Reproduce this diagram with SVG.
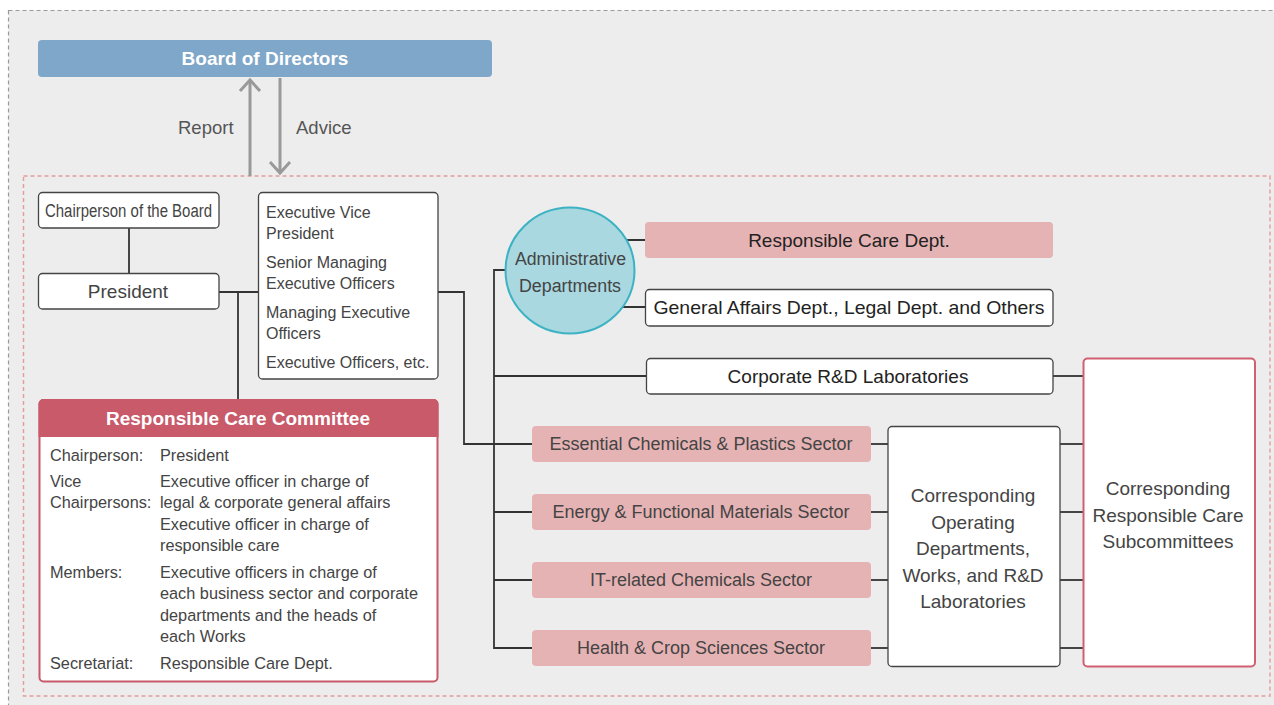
<svg xmlns="http://www.w3.org/2000/svg" width="1274" height="705" viewBox="0 0 1274 705">
<style>
text{font-family:"Liberation Sans",Arial,sans-serif;fill:#444}
.box{fill:#fff;stroke:#444;stroke-width:1.3}
.pink{fill:#e6b3b4}
.ln{fill:none;stroke:#333;stroke-width:1.8}
.arr{fill:none;stroke:#999;stroke-width:3}
.c{text-anchor:middle}
.b16{font-size:16.3px}
.s18{font-size:18px}
.s19{font-size:19px}
.dk{fill:#222}
.wb{fill:#fff;font-weight:bold;font-size:19px}
</style>
<rect x="0" y="0" width="1274" height="705" fill="#fff"/>
<rect x="8.5" y="10.5" width="1280" height="710" fill="#ededed" stroke="#9a9a9a" stroke-width="1.2" stroke-dasharray="4 3"/>
<rect x="23.5" y="176" width="1246.5" height="520" fill="none" stroke="#e49c9c" stroke-width="1.4" stroke-dasharray="4 3"/>

<g id="connectors">
<polyline class="arr" points="250,176 250,80"/>
<polyline class="arr" points="240,91 250,80 260,91"/>
<polyline class="arr" points="280,78 280,173"/>
<polyline class="arr" points="270,162 280,173 290,162"/>
<line class="ln" x1="129" y1="228" x2="129" y2="273"/>
<line class="ln" x1="219" y1="292" x2="258" y2="292"/>
<line class="ln" x1="238" y1="292" x2="238" y2="400"/>
<polyline class="ln" points="438,292 464,292 464,444 532,444"/>
<polyline class="ln" points="506,270 494,270 494,648 532,648"/>
<line class="ln" x1="494" y1="376" x2="646" y2="376"/>
<line class="ln" x1="494" y1="512" x2="532" y2="512"/>
<line class="ln" x1="494" y1="580" x2="532" y2="580"/>
<line class="ln" x1="607" y1="240" x2="645" y2="240"/>
<line class="ln" x1="602" y1="307" x2="645" y2="307"/>
<line class="ln" x1="1053" y1="376" x2="1083" y2="376"/>
<line class="ln" x1="871" y1="444" x2="888" y2="444"/>
<line class="ln" x1="871" y1="512" x2="888" y2="512"/>
<line class="ln" x1="871" y1="580" x2="888" y2="580"/>
<line class="ln" x1="871" y1="648" x2="888" y2="648"/>
<line class="ln" x1="1060" y1="444" x2="1083" y2="444"/>
<line class="ln" x1="1060" y1="512" x2="1083" y2="512"/>
<line class="ln" x1="1060" y1="580" x2="1083" y2="580"/>
<line class="ln" x1="1060" y1="648" x2="1083" y2="648"/>
<text x="178" y="134" style="font-size:18.5px;fill:#555">Report</text>
<text x="296" y="134" style="font-size:18.5px;fill:#555">Advice</text>
</g>

<g id="board">
<rect x="38" y="40" width="454" height="37" rx="4" fill="#7fa7c9"/>
<text class="wb c" x="265" y="65">Board of Directors</text>
</g>

<g id="chairperson">
<rect class="box" x="38.5" y="192.5" width="180.5" height="35.5" rx="4"/>
<text x="45" y="217" style="font-size:18px" textLength="167" lengthAdjust="spacingAndGlyphs">Chairperson of the Board</text>
</g>

<g id="president">
<rect class="box" x="38.5" y="273.5" width="180.5" height="35.5" rx="4"/>
<text class="c" x="128" y="298" style="font-size:19px">President</text>
</g>

<g id="executives">
<rect class="box" x="258.5" y="192.5" width="179.5" height="186.5" rx="4"/>
<text x="266" y="218" style="font-size:16px">Executive Vice</text>
<text x="266" y="239" style="font-size:16px">President</text>
<text x="266" y="268" style="font-size:16px">Senior Managing</text>
<text x="266" y="289" style="font-size:16px">Executive Officers</text>
<text x="266" y="318" style="font-size:16px">Managing Executive</text>
<text x="266" y="339" style="font-size:16px">Officers</text>
<text x="266" y="368" style="font-size:16px">Executive Officers, etc.</text>
</g>

<g id="rc-committee">
<rect x="39.5" y="400" width="398" height="281.5" rx="4" fill="#fff" stroke="#c85a6a" stroke-width="2"/>
<path d="M39.5,436 V404 a4,4 0 0 1 4,-4 H433.5 a4,4 0 0 1 4,4 V436 Z" fill="#c85a6a" stroke="#c85a6a" stroke-width="2"/>
<text class="wb c" x="238" y="425">Responsible Care Committee</text>
<text class="b16" x="50" y="461">Chairperson:</text>
<text class="b16" x="160" y="461">President</text>
<text class="b16" x="50" y="487">Vice</text>
<text class="b16" x="50" y="508">Chairpersons:</text>
<text class="b16" x="160" y="487">Executive officer in charge of</text>
<text class="b16" x="160" y="508">legal &amp; corporate general affairs</text>
<text class="b16" x="160" y="530">Executive officer in charge of</text>
<text class="b16" x="160" y="551">responsible care</text>
<text class="b16" x="50" y="578">Members:</text>
<text class="b16" x="160" y="578">Executive officers in charge of</text>
<text class="b16" x="160" y="599">each business sector and corporate</text>
<text class="b16" x="160" y="621">departments and the heads of</text>
<text class="b16" x="160" y="642">each Works</text>
<text class="b16" x="50" y="669">Secretariat:</text>
<text class="b16" x="160" y="669">Responsible Care Dept.</text>
</g>

<g id="admin-depts">
<ellipse cx="570" cy="270.5" rx="64.5" ry="63" fill="#a9d8e0" stroke="#3cb2c2" stroke-width="2"/>
<text class="c" x="570.5" y="265" style="font-size:18px" textLength="111" lengthAdjust="spacingAndGlyphs">Administrative</text>
<text class="c" x="570" y="292" style="font-size:18px" textLength="102" lengthAdjust="spacingAndGlyphs">Departments</text>
</g>

<g id="rc-dept">
<rect class="pink" x="645" y="222" width="408" height="36" rx="4"/>
<text class="c dk s19" x="849" y="247">Responsible Care Dept.</text>
</g>

<g id="general-affairs">
<rect class="box" x="645.5" y="289.5" width="407.5" height="36.5" rx="4"/>
<text class="c dk" x="849" y="314" style="font-size:18.5px" textLength="391" lengthAdjust="spacingAndGlyphs">General Affairs Dept., Legal Dept. and Others</text>
</g>

<g id="corporate-rd">
<rect class="box" x="646.5" y="358.5" width="406.5" height="35.5" rx="4"/>
<text class="c dk s19" x="848" y="383">Corporate R&amp;D Laboratories</text>
</g>

<g id="sector-essential">
<rect class="pink" x="532" y="426" width="339" height="36" rx="4"/>
<text class="c s18" x="701" y="450">Essential Chemicals &amp; Plastics Sector</text>
</g>
<g id="sector-energy">
<rect class="pink" x="532" y="494" width="339" height="36" rx="4"/>
<text class="c s18" x="701" y="518">Energy &amp; Functional Materials Sector</text>
</g>
<g id="sector-it">
<rect class="pink" x="532" y="562" width="339" height="36" rx="4"/>
<text class="c s18" x="701" y="586">IT-related Chemicals Sector</text>
</g>
<g id="sector-health">
<rect class="pink" x="532" y="630" width="339" height="36" rx="4"/>
<text class="c s18" x="701" y="654">Health &amp; Crop Sciences Sector</text>
</g>

<g id="operating">
<rect class="box" x="888" y="426.5" width="172" height="240" rx="4"/>
<text class="c s19" x="973" y="502">Corresponding</text>
<text class="c s19" x="973" y="529">Operating</text>
<text class="c s19" x="973" y="555">Departments,</text>
<text class="c s19" x="973" y="582">Works, and R&amp;D</text>
<text class="c s19" x="973" y="608">Laboratories</text>
</g>

<g id="subcommittees">
<rect x="1083.5" y="358.5" width="171.5" height="308" rx="4" fill="#fff" stroke="#d06070" stroke-width="2"/>
<text class="c s19" x="1168" y="495">Corresponding</text>
<text class="c s19" x="1168" y="522">Responsible Care</text>
<text class="c s19" x="1168" y="548">Subcommittees</text>
</g>
</svg>
